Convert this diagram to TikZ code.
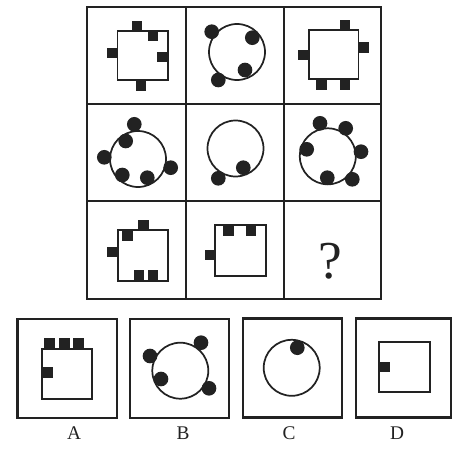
\documentclass[tikz,border=0pt]{standalone}
\usepackage{fontspec}
\setmainfont{Liberation Serif}
\begin{document}
\begin{tikzpicture}[x=0.75pt,y=-0.75pt]
\definecolor{ink}{HTML}{222222}
\tikzset{
  gridline/.style={line width=1.6pt, draw=ink},
  optbox/.style={line width=1.8pt, draw=ink},
  outline/.style={line width=1.3pt, draw=ink},
  lbl/.style={inner sep=0pt, text=ink, font=\fontsize{14.5}{16}\selectfont},
}
\newcommand\blk[2]{\fill[ink] (#1-5.25,#2-5.25) rectangle (#1+5.25,#2+5.25);}
\newcommand\bdot[2]{\fill[ink] (#1,#2) circle[radius=5.5pt];}
\newcommand\ring[2]{\draw[outline] (#1,#2) circle[radius=21pt];}
\useasboundingbox (0,0) rectangle (452,450);
\fill[white] (0,0) rectangle (452,450);
% grid
\draw[gridline] (87,7) rectangle (381,299);
\draw[gridline] (186,7) -- (186,299);
\draw[gridline] (284,7) -- (284,299);
\draw[gridline] (87,104) -- (381,104);
\draw[gridline] (87,201) -- (381,201);
% cell 1,1
\draw[outline] (117.5,31) rectangle (168,80);
\blk{137}{26} \blk{153}{36} \blk{112}{53} \blk{162.7}{57} \blk{141}{85.5}
% cell 1,2
\ring{237}{52}
\bdot{211.7}{31.7} \bdot{252.3}{37.7} \bdot{245}{70} \bdot{218.3}{80}
% cell 1,3
\draw[outline] (309,30) rectangle (358.5,79);
\blk{345}{25} \blk{303.5}{55} \blk{363.5}{47.5} \blk{321.5}{84.5} \blk{345}{84.5}
% cell 2,1
\ring{138}{159}
\bdot{134.3}{124.3} \bdot{125.7}{141} \bdot{104.3}{157.3} \bdot{122.3}{175} \bdot{147.3}{177.7} \bdot{170.7}{167.7}
% cell 2,2
\ring{235.5}{148.5}
\bdot{243.3}{167.7} \bdot{218.3}{178.3}
% cell 2,3
\ring{327.8}{156.3}
\bdot{320}{123.3} \bdot{345.7}{128.3} \bdot{306.7}{149.3} \bdot{361}{151.7} \bdot{327.3}{177.7} \bdot{352.3}{179.3}
% cell 3,1
\draw[outline] (118,230) rectangle (168.3,281);
\blk{143.7}{225.3} \blk{127.3}{235.3} \blk{112.7}{252} \blk{138.8}{275.5} \blk{153}{275.5}
% cell 3,2
\draw[outline] (215,225) rectangle (265.7,276);
\blk{228.7}{230.3} \blk{250.8}{230.3} \blk{210}{255}
% cell 3,3
\node[inner sep=0pt, text=ink] (q) at (330.7,261.7) {\fontsize{40}{44}\selectfont ?};
% option A
\draw[optbox] (17.3,319) rectangle (116.7,417.7);
\draw[outline] (42,349.3) rectangle (92.3,399);
\blk{49.3}{343.7} \blk{64.3}{343.7} \blk{78.3}{343.7} \blk{47.5}{372.5}
\node[lbl] (la) at (74,433) {A};
% option B
\draw[optbox] (130,319) rectangle (229,418);
\ring{180.3}{370.7}
\bdot{201}{342.7} \bdot{150}{356} \bdot{161}{379} \bdot{209}{388.3}
\node[lbl] (lb) at (183,433) {B};
% option C
\draw[optbox] (242.7,318.3) rectangle (341.7,417.3);
\ring{291.7}{367.8}
\bdot{297.3}{347.7}
\node[lbl] (lc) at (289,433) {C};
% option D
\draw[optbox] (356,318.3) rectangle (451,417.3);
\draw[outline] (379.3,341.7) rectangle (430,391.7);
\blk{385}{367}
\node[lbl] (ld) at (397,433) {D};
\end{tikzpicture}
\end{document}
